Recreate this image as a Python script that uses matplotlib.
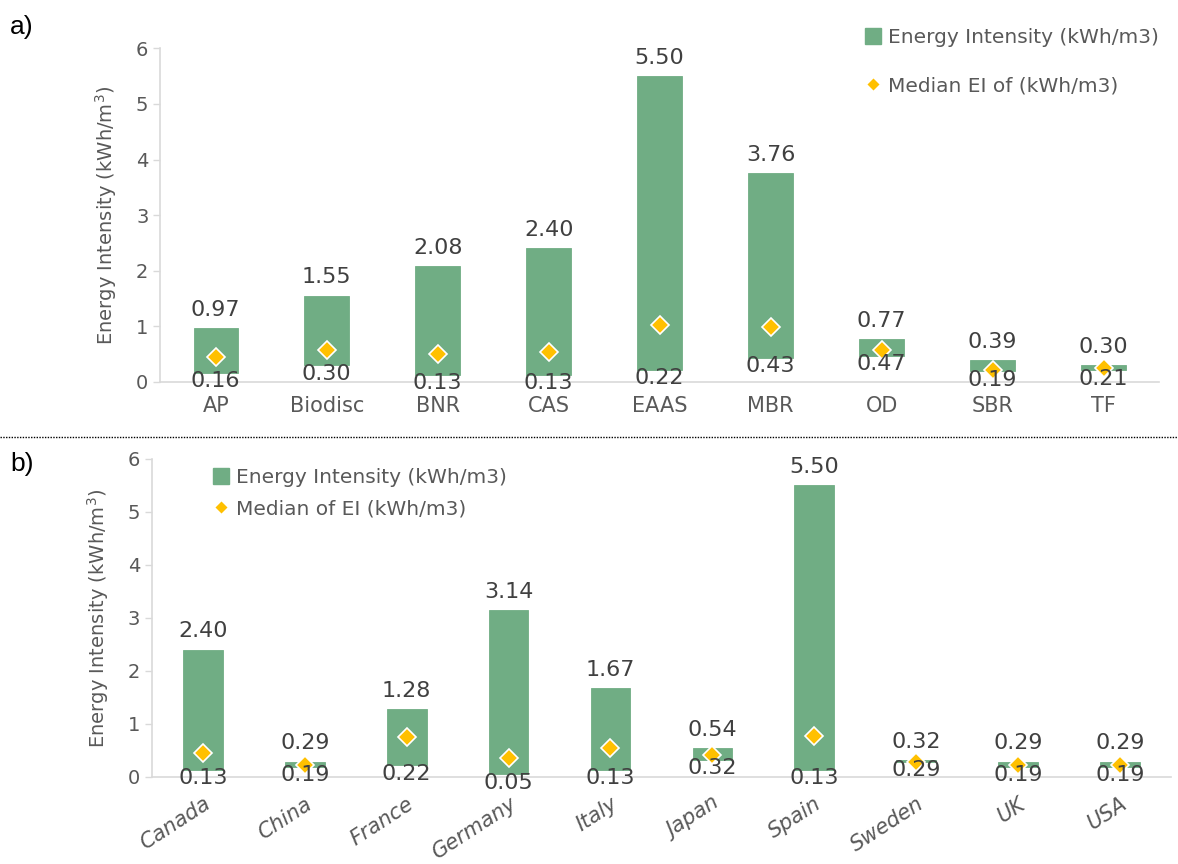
import matplotlib
matplotlib.use("Agg")
import matplotlib.pyplot as plt
from matplotlib.lines import Line2D
import numpy as np

plt.rcParams["font.family"] = ["DejaVu Sans"]

# panel a: treatment processes
proc = ["AP", "Biodisc", "BNR", "CAS", "EAAS", "MBR", "OD", "SBR", "TF"]
proc_min = [0.16, 0.30, 0.13, 0.13, 0.22, 0.43, 0.47, 0.19, 0.21]
proc_max = [0.97, 1.55, 2.08, 2.40, 5.50, 3.76, 0.77, 0.39, 0.30]
proc_med = [0.44, 0.57, 0.51, 0.54, 1.02, 0.99, 0.57, 0.22, 0.25]

# panel b: countries
country = ["Canada", "China", "France", "Germany", "Italy", "Japan", "Spain",
           "Sweden", "UK", "USA"]
ctry_min = [0.13, 0.19, 0.22, 0.05, 0.13, 0.32, 0.13, 0.29, 0.19, 0.19]
ctry_max = [2.40, 0.29, 1.28, 3.14, 1.67, 0.54, 5.50, 0.32, 0.29, 0.29]
ctry_med = [0.45, 0.23, 0.75, 0.36, 0.55, 0.41, 0.77, 0.29, 0.23, 0.23]

GREEN = "#70AD84"
GOLD = "#FFC000"
GREY = "#595959"
DARK = "#404040"
AXIS = "#D9D9D9"


def draw_panel(ax, cats, lo, hi, med, width):
    x = np.arange(len(cats))
    lo = np.array(lo)
    hi = np.array(hi)
    ax.bar(x, hi - lo, bottom=lo, width=width, color=GREEN,
           edgecolor=GREEN, linewidth=0.6, zorder=2)
    ax.plot(x, med, linestyle="none", marker="D", markersize=9,
            markerfacecolor=GOLD, markeredgecolor="white",
            markeredgewidth=1.2, zorder=3)
    for xi, a, b in zip(x, lo, hi):
        ax.annotate(f"{b:.2f}", (xi, b), xytext=(0, 6), textcoords="offset points",
                    ha="center", va="bottom", fontsize=16, color=DARK)
        ax.annotate(f"{a:.2f}", (xi, a), xytext=(0, -6), textcoords="offset points",
                    ha="center", va="center", fontsize=16, color=DARK, zorder=4)
    ax.set_xlim(-0.5, len(cats) - 0.5)
    ax.set_ylim(0, 6)
    ax.set_yticks(range(0, 7))
    ax.set_xticks(x)
    ax.set_xticklabels(cats)
    for s in ("top", "right"):
        ax.spines[s].set_visible(False)
    for s in ("left", "bottom"):
        ax.spines[s].set_color(AXIS)
        ax.spines[s].set_linewidth(1.2)
    ax.tick_params(axis="y", colors=AXIS, labelcolor=GREY, labelsize=14,
                   length=5, width=1)
    ax.tick_params(axis="x", length=0, labelcolor=GREY, labelsize=15, pad=10)
    ax.set_ylabel("Energy Intensity (kWh/m$^3$)", fontsize=14, color=GREY,
                  labelpad=12)


fig = plt.figure(figsize=(11.78, 8.64), dpi=100)

ax1 = fig.add_axes([0.136, 0.558, 0.848, 0.386])
draw_panel(ax1, proc, proc_min, proc_max, proc_med, 0.4)

ax2 = fig.add_axes([0.129, 0.1007, 0.865, 0.3683])
draw_panel(ax2, country, ctry_min, ctry_max, ctry_med, 0.39)
for lab in ax2.get_xticklabels():
    lab.set_rotation(33)
    lab.set_ha("right")
    lab.set_rotation_mode("anchor")
    lab.set_style("italic")
ax2.tick_params(axis="x", pad=12)

h_bar = Line2D([], [], linestyle="none", marker="s", markersize=12,
               markerfacecolor=GREEN, markeredgecolor=GREEN)
h_med = Line2D([], [], linestyle="none", marker="D", markersize=7,
               markerfacecolor=GOLD, markeredgecolor="white")

leg1 = fig.legend([h_bar, h_med],
                  ["Energy Intensity (kWh/m3)", "Median EI of (kWh/m3)"],
                  loc="upper left", bbox_to_anchor=(845 / 1178, 1 - 10 / 864),
                  frameon=False, fontsize=14.5, labelcolor=GREY,
                  labelspacing=1.45, handletextpad=0.25, handlelength=1.0)
leg2 = fig.legend([h_bar, h_med],
                  ["Energy Intensity (kWh/m3)", "Median of EI (kWh/m3)"],
                  loc="upper left", bbox_to_anchor=(193 / 1178, 1 - 450 / 864),
                  frameon=False, fontsize=14.5, labelcolor=GREY,
                  labelspacing=0.6, handletextpad=0.25, handlelength=1.0)

fig.add_artist(Line2D([0, 1], [1 - 437 / 864, 1 - 437 / 864],
                      transform=fig.transFigure, color="black",
                      linestyle=(0, (1, 1)), linewidth=1))

fig.text(10 / 1178, 1 - 27 / 864, "a)", fontsize=19, color="black",
         family="Liberation Sans", va="center")
fig.text(10 / 1178, 1 - 464 / 864, "b)", fontsize=19, color="black",
         family="Liberation Sans", va="center")

fig.savefig("out.png", dpi=100)
